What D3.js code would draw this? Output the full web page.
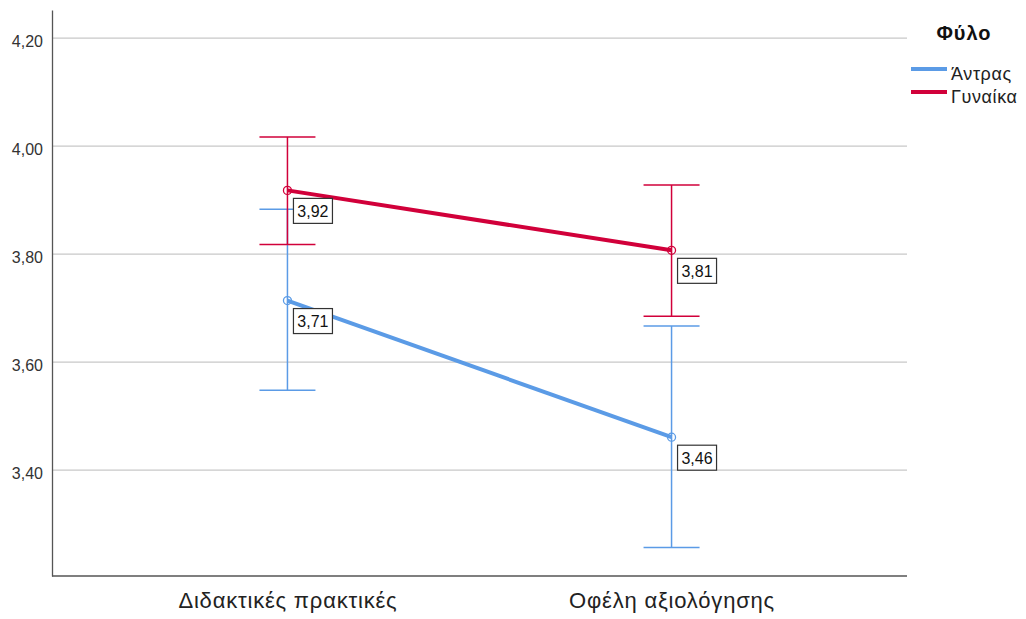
<!DOCTYPE html>
<html>
<head>
<meta charset="utf-8">
<script src="https://cdn.jsdelivr.net/npm/d3@7"></script>
<style>
  body { margin: 0; background: #fff; }
  svg { font-family: "Liberation Sans", Arial, sans-serif; }
</style>
</head>
<body>
<script>
// Διάγραμμα μέσων όρων με διαστήματα εμπιστοσύνης

let categories = ['Διδακτικές πρακτικές', 'Οφέλη αξιολόγησης']
let groups = ['Άντρας', 'Γυναίκα']
let colors = ['#5b9be6', '#d1003a']
let means = [[3.714, 3.461], [3.918, 3.807]]
let lower = [[3.548, 3.257], [3.818, 3.685]]
let upper = [[3.883, 3.667], [4.017, 3.928]]
let yTicks = [3.4, 3.6, 3.8, 4.0, 4.2]
let legendTitle = 'Φύλο'

let W = 1026, H = 619
let margin = { left: 52, right: 119, top: 10, bottom: 43 }

let svg = d3.select('body').append('svg')
  .attr('width', W)
  .attr('height', H)

let x = d3.scalePoint().domain(categories).range([margin.left, W - margin.right]).padding(0.613)
let y = d3.scaleLinear().domain([3.204, 4.252]).range([H - margin.bottom, margin.top])

let fmt = v => d3.format('.2f')(v).replace('.', ',')

// γραμμές πλέγματος
svg.append('g')
  .selectAll('line')
  .data(yTicks)
  .join('line')
  .attr('x1', margin.left)
  .attr('x2', W - margin.right)
  .attr('y1', d => y(d))
  .attr('y2', d => y(d))
  .attr('stroke', '#c8c8c8')
  .attr('stroke-width', 1.2)

// άξονας y
let yAxis = svg.append('g')
  .attr('transform', 'translate(' + margin.left + ',0)')
  .call(d3.axisLeft(y).tickValues(yTicks).tickSize(0).tickPadding(9).tickFormat(fmt))
yAxis.select('.domain').attr('stroke', '#555').attr('stroke-width', 1.3)
yAxis.selectAll('text').attr('font-size', 16).attr('fill', '#333').attr('dy', '0.55em')

// άξονας x
let xAxis = svg.append('g')
  .attr('transform', 'translate(0,' + (H - margin.bottom) + ')')
  .call(d3.axisBottom(x).tickSize(0).tickPadding(16))
xAxis.select('.domain').attr('stroke', '#555').attr('stroke-width', 1.3)
  .attr('d', 'M' + margin.left + ',0H' + (W - margin.right))
xAxis.selectAll('text').attr('font-size', 22).attr('letter-spacing', 0.8).attr('fill', '#222')

// σφάλματα
groups.forEach((g, gi) => {
  let c = colors[gi]
  let eb = svg.append('g')
  categories.forEach((cat, ci) => {
    let cx = x(cat)
    eb.append('line')
      .attr('x1', cx).attr('x2', cx)
      .attr('y1', y(lower[gi][ci])).attr('y2', y(upper[gi][ci]))
      .attr('stroke', c).attr('stroke-width', 1.5)
    ;[lower[gi][ci], upper[gi][ci]].forEach(v => {
      eb.append('line')
        .attr('x1', cx - 28).attr('x2', cx + 28)
        .attr('y1', y(v)).attr('y2', y(v))
        .attr('stroke', c).attr('stroke-width', 1.5)
    })
  })
})

// γραμμές και σημεία
groups.forEach((g, gi) => {
  let c = colors[gi]
  let pts = categories.map((cat, ci) => [x(cat), y(means[gi][ci])])
  svg.append('path')
    .attr('d', d3.line()(pts))
    .attr('stroke', c)
    .attr('stroke-width', 4)
    .attr('fill', 'none')
  svg.append('g')
    .selectAll('circle')
    .data(pts)
    .join('circle')
    .attr('cx', d => d[0])
    .attr('cy', d => d[1])
    .attr('r', 4)
    .attr('fill', 'none')
    .attr('stroke', c)
    .attr('stroke-width', 1.3)
})

// ετικέτες τιμών
groups.forEach((g, gi) => {
  categories.forEach((cat, ci) => {
    let px = x(cat) + 6, py = y(means[gi][ci]) + 8
    let lab = svg.append('g').attr('transform', 'translate(' + px + ',' + py + ')')
    lab.append('rect')
      .attr('width', 39).attr('height', 25)
      .attr('fill', '#fff')
      .attr('stroke', '#333').attr('stroke-width', 1.2)
    lab.append('text')
      .attr('x', 19.5).attr('y', 18.5)
      .attr('text-anchor', 'middle')
      .attr('font-size', 16)
      .attr('fill', '#111')
      .text(fmt(means[gi][ci]))
  })
})

// υπόμνημα
let legend = svg.append('g')
legend.append('text')
  .attr('x', 964).attr('y', 40)
  .attr('text-anchor', 'middle')
  .attr('font-size', 20)
  .attr('letter-spacing', 1)
  .attr('font-weight', 'bold')
  .attr('fill', '#111')
  .text(legendTitle)
groups.forEach((g, gi) => {
  let ly = 69 + gi * 23
  legend.append('line')
    .attr('x1', 911).attr('x2', 947)
    .attr('y1', ly).attr('y2', ly)
    .attr('stroke', colors[gi]).attr('stroke-width', 4)
  legend.append('text')
    .attr('x', 951).attr('y', ly + 11)
    .attr('font-size', 18)
    .attr('letter-spacing', 0.6)
    .attr('fill', '#222')
    .text(g)
})
</script>
</body>
</html>
